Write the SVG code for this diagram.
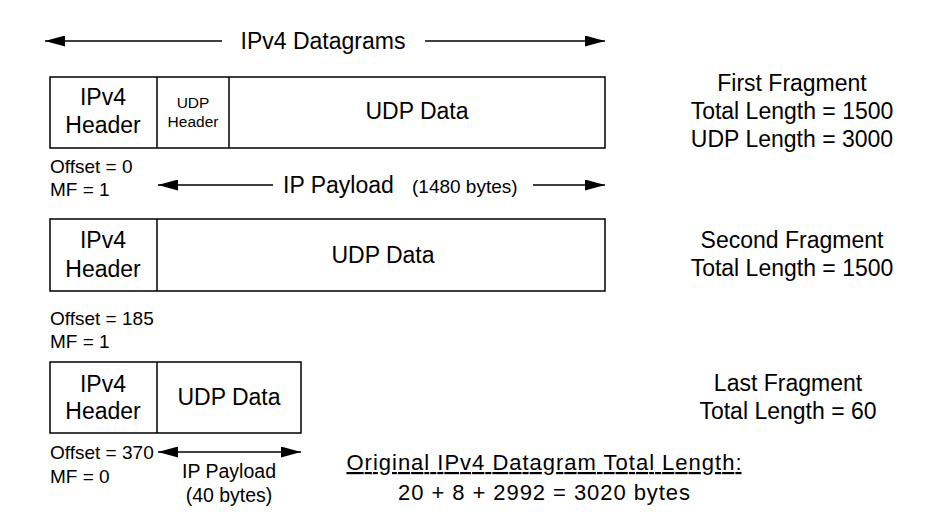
<svg xmlns="http://www.w3.org/2000/svg" width="942" height="529" viewBox="0 0 942 529">
<style>
text{font-family:"Liberation Sans",Arial,sans-serif;fill:#000}
.b{fill:#fff;stroke:#000;stroke-width:1.5}
.l{stroke:#000;stroke-width:1.5;fill:none}
.m{font-size:23px;text-anchor:middle}
.s{font-size:19px}
</style>
<defs>
<marker id="a" viewBox="0 0 20 11" refX="20" refY="5.5" markerWidth="20" markerHeight="11" markerUnits="userSpaceOnUse" orient="auto-start-reverse"><path d="M0,0L20,5.5L0,11z" fill="#000"/></marker>
</defs>
<rect width="942" height="529" fill="#fff"/>
<g id="connectors">
<line class="l" x1="45" y1="41" x2="222" y2="41" marker-start="url(#a)"/>
<line class="l" x1="425" y1="41" x2="605" y2="41" marker-end="url(#a)"/>
<line class="l" x1="158" y1="185" x2="273" y2="185" marker-start="url(#a)"/>
<line class="l" x1="533" y1="185" x2="605" y2="185" marker-end="url(#a)"/>
<line class="l" x1="158" y1="452" x2="301" y2="452" marker-start="url(#a)" marker-end="url(#a)"/>
</g>
<text class="m" x="323" y="49">IPv4 Datagrams</text>
<g id="frag1">
<rect class="b" x="50" y="77" width="555" height="71"/>
<line class="l" x1="157" y1="77" x2="157" y2="148"/>
<line class="l" x1="229" y1="77" x2="229" y2="148"/>
<text class="m" x="103" y="105">IPv4</text>
<text class="m" x="103" y="133">Header</text>
<text x="193" y="108" font-size="15.5" text-anchor="middle">UDP</text>
<text x="193" y="127" font-size="15.5" text-anchor="middle">Header</text>
<text class="m" x="417" y="119">UDP Data</text>
</g>
<g id="label1">
<text class="m" x="792" y="91">First Fragment</text>
<text class="m" x="792" y="119">Total Length = 1500</text>
<text class="m" x="792" y="147">UDP Length = 3000</text>
<text class="s" x="50" y="173">Offset = 0</text>
<text class="s" x="50" y="196">MF = 1</text>
<text x="283" y="193" font-size="23">IP Payload</text>
<text x="412" y="193" font-size="19">(1480 bytes)</text>
</g>
<g id="frag2">
<rect class="b" x="50" y="219" width="555" height="72"/>
<line class="l" x1="157" y1="219" x2="157" y2="291"/>
<text class="m" x="103" y="248">IPv4</text>
<text class="m" x="103" y="277">Header</text>
<text class="m" x="383" y="263">UDP Data</text>
</g>
<g id="label2">
<text class="m" x="792" y="248">Second Fragment</text>
<text class="m" x="792" y="276">Total Length = 1500</text>
<text class="s" x="50" y="325">Offset = 185</text>
<text class="s" x="50" y="348">MF = 1</text>
</g>
<g id="frag3">
<rect class="b" x="50" y="362" width="251" height="71"/>
<line class="l" x1="157" y1="362" x2="157" y2="433"/>
<text class="m" x="103" y="392">IPv4</text>
<text class="m" x="103" y="419">Header</text>
<text class="m" x="229" y="405">UDP Data</text>
</g>
<g id="label3">
<text class="m" x="788" y="391">Last Fragment</text>
<text class="m" x="788" y="419">Total Length = 60</text>
<text class="s" x="50" y="459">Offset = 370</text>
<text class="s" x="50" y="483">MF = 0</text>
<text x="229" y="478" font-size="19.5" text-anchor="middle">IP Payload</text>
<text x="229" y="502" font-size="19.5" text-anchor="middle">(40 bytes)</text>
</g>
<g id="total">
<text x="544" y="470" font-size="22" text-anchor="middle" text-decoration="underline" textLength="395">Original IPv4 Datagram Total Length:</text>
<text x="544" y="500" font-size="22" text-anchor="middle" textLength="292">20 + 8 + 2992 = 3020 bytes</text>
</g>
</svg>
